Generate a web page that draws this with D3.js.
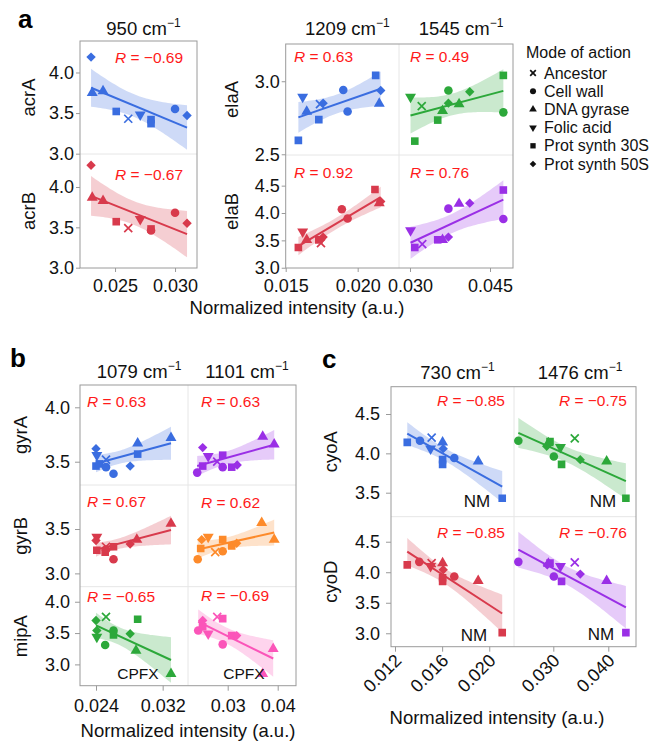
<!DOCTYPE html>
<html>
<head>
<meta charset="utf-8">
<script src="https://cdn.jsdelivr.net/npm/d3@7"></script>
<style>
  body { margin: 0; background: #fff; }
  text { font-family: "Liberation Sans", Arial, Helvetica, sans-serif; }
</style>
</head>
<body>
<svg id="fig" width="651" height="743"></svg>
<script>
// mode of action codes: X ancestor, C cell wall, T DNA gyrase, F folic acid, S prot synth 30S, D prot synth 50S
const modes = [["X", "Ancestor"], ["C", "Cell wall"], ["T", "DNA gyrase"], ["F", "Folic acid"], ["S", "Prot synth 30S"], ["D", "Prot synth 50S"]];

// points: [mode, normalized intensity, expression]
const acrA_950 = [["D",0.0230,4.19],["T",0.0231,3.75],["T",0.0240,3.77],["S",0.0251,3.52],["X",0.0261,3.43],["F",0.0271,3.48],["S",0.0280,3.42],["S",0.0280,3.37],["C",0.0300,3.55],["D",0.0310,3.47]];
const acrB_950 = [["D",0.0230,4.27],["T",0.0231,3.87],["T",0.0240,3.83],["S",0.0251,3.57],["X",0.0261,3.49],["F",0.0271,3.60],["S",0.0280,3.48],["C",0.0280,3.46],["C",0.0300,3.68],["D",0.0310,3.55]];
const elaA_1209 = [["S",0.01588,2.595],["F",0.01618,2.892],["T",0.01646,2.793],["X",0.01738,2.843],["D",0.0176,2.85],["S",0.0173,2.737],["C",0.0190,2.94],["C",0.0193,2.793],["S",0.02125,3.04],["D",0.0216,2.937],["T",0.0215,2.847]];
const elaB_1209 = [["S",0.01588,3.37],["F",0.01618,3.66],["T",0.01646,3.51],["X",0.01745,3.45],["D",0.0176,3.56],["S",0.0173,3.51],["C",0.0189,4.07],["C",0.0193,3.90],["S",0.0212,4.43],["D",0.0216,4.21],["T",0.0215,4.18]];
const elaA_1545 = [["F",0.0301,2.892],["S",0.0309,2.59],["X",0.0322,2.83],["S",0.0352,2.734],["T",0.0361,2.797],["C",0.0372,2.937],["D",0.0372,2.85],["T",0.0392,2.843],["D",0.0412,2.928],["S",0.0475,3.04],["C",0.0475,2.787]];
const elaB_1545 = [["F",0.0301,3.68],["S",0.0309,3.37],["X",0.0323,3.43],["S",0.0352,3.51],["T",0.0361,3.51],["D",0.0372,3.56],["C",0.0372,4.08],["T",0.0392,4.17],["D",0.0412,4.18],["S",0.0475,4.42],["C",0.0475,3.89]];

const gyrA_1079 = [["D",0.0240,3.62],["F",0.0241,3.56],["S",0.0240,3.46],["S",0.0244,3.48],["X",0.0252,3.52],["C",0.0252,3.45],["C",0.0261,3.39],["D",0.0281,3.46],["S",0.0290,3.57],["T",0.0290,3.67],["T",0.0330,3.72]];
const gyrB_1079 = [["F",0.0241,3.41],["D",0.0240,3.37],["S",0.0241,3.26],["S",0.0251,3.24],["X",0.0252,3.30],["C",0.0252,3.27],["S",0.0261,3.30],["C",0.0261,3.16],["D",0.0281,3.33],["T",0.0289,3.38],["T",0.0330,3.56]];
const mipA_1079 = [["D",0.0240,3.70],["D",0.0241,3.54],["F",0.0241,3.44],["C",0.0251,3.31],["X",0.0252,3.76],["C",0.0261,3.54],["S",0.0261,3.47],["D",0.0281,3.49],["S",0.0290,3.72],["T",0.0288,3.22],["T",0.0330,2.85]];
const gyrA_1101 = [["C",0.0239,3.40],["S",0.0250,3.46],["D",0.0250,3.63],["F",0.0261,3.55],["X",0.0279,3.50],["S",0.0290,3.56],["C",0.0290,3.45],["S",0.0308,3.45],["D",0.0319,3.47],["T",0.0370,3.73],["T",0.0393,3.66]];
const gyrB_1101 = [["C",0.0240,3.16],["S",0.0246,3.28],["D",0.0248,3.38],["F",0.0261,3.41],["X",0.0275,3.24],["S",0.0290,3.38],["C",0.0290,3.25],["S",0.0308,3.31],["D",0.0318,3.34],["T",0.0368,3.57],["T",0.0393,3.38]];
const mipA_1101 = [["C",0.0241,3.54],["D",0.0250,3.70],["S",0.0250,3.60],["F",0.0261,3.49],["X",0.0279,3.76],["S",0.0290,3.73],["C",0.0290,3.32],["S",0.0308,3.46],["D",0.0318,3.46],["T",0.0391,3.25],["T",0.0370,2.85]];

const cyoA_730 = [["S",0.01304,4.14],["C",0.01412,4.16],["X",0.01511,4.20],["F",0.01502,4.06],["T",0.01604,4.14],["D",0.01609,4.06],["S",0.01604,3.92],["S",0.01604,3.86],["C",0.01703,3.94],["T",0.01906,3.90],["S",0.0211,3.43]];
const cyoA_1476 = [["C",0.02364,4.16],["D",0.0288,4.09],["T",0.0291,4.13],["S",0.0294,4.15],["C",0.0301,3.96],["F",0.0313,4.08],["S",0.0315,3.86],["X",0.0339,4.19],["D",0.0349,3.92],["T",0.0397,3.90],["S",0.0432,3.43]];
const cyoD_730 = [["S",0.01304,4.12],["C",0.01406,4.17],["X",0.01511,4.15],["F",0.01502,4.10],["T",0.01604,4.15],["D",0.01609,4.04],["S",0.01604,3.91],["S",0.01604,3.85],["C",0.01703,3.93],["T",0.01906,3.86],["S",0.0211,3.01]];
const cyoD_1476 = [["C",0.02364,4.17],["D",0.0289,4.12],["T",0.0291,4.14],["S",0.0294,4.15],["F",0.0313,4.10],["X",0.0339,4.16],["C",0.0301,3.93],["S",0.0315,3.85],["D",0.0349,3.97],["T",0.0397,3.86],["S",0.0432,3.01]];

// correlation labels as printed
const rLabels = {acrA_950:"−0.69", acrB_950:"−0.67", elaA_1209:"0.63", elaB_1209:"0.92", elaA_1545:"0.49", elaB_1545:"0.76",
  gyrA_1079:"0.63", gyrB_1079:"0.67", mipA_1079:"−0.65", gyrA_1101:"0.63", gyrB_1101:"0.62", mipA_1101:"−0.69",
  cyoA_730:"−0.85", cyoA_1476:"−0.75", cyoD_730:"−0.85", cyoD_1476:"−0.76"};

const BLUE = "#3a6de0", RED = "#d83a4c", GREEN = "#2ca83a", PURPLE = "#9a2fe6", ORANGE = "#fd8a2a", PINK = "#fb55b9";
const FRAME = "#9a9a9a", DIV = "#e6e6e6", RTXT = "#ff1a1a";

// t quantiles (0.975) by degrees of freedom
const TQ = {6:2.447, 7:2.365, 8:2.306, 9:2.262, 10:2.228, 11:2.201, 12:2.179, 13:2.160};

const svg = d3.select("#fig");

function lm(pts) {
  const n = pts.length;
  const mx = d3.mean(pts, p => p[1]), my = d3.mean(pts, p => p[2]);
  let sxx = 0, sxy = 0;
  pts.forEach(p => { sxx += (p[1] - mx) ** 2; sxy += (p[1] - mx) * (p[2] - my); });
  const b = sxy / sxx, a = my - b * mx;
  let sse = 0;
  pts.forEach(p => { sse += (p[2] - a - b * p[1]) ** 2; });
  const s = Math.sqrt(sse / (n - 2)), t = TQ[n - 2] || 2.2;
  const ext = d3.extent(pts, p => p[1]);
  return {a, b, ext, half: x => t * s * Math.sqrt(1 / n + (x - mx) ** 2 / sxx)};
}

const SYM = {
  C: {d: d3.symbol(d3.symbolCircle, 58)(), rot: 0},
  S: {d: d3.symbol(d3.symbolSquare, 58)(), rot: 0},
  T: {d: d3.symbol(d3.symbolTriangle, 52)(), rot: 0},
  F: {d: d3.symbol(d3.symbolTriangle, 52)(), rot: 180},
  D: {d: d3.symbol(d3.symbolSquare, 44)(), rot: 45},
  X: {d: "M-4,-4L4,4M-4,4L4,-4", rot: 0, stroke: true}
};

function drawSym(g, code, x, y, color, k) {
  const s = SYM[code];
  const p = g.append("path").attr("d", s.d)
    .attr("transform", `translate(${x},${y}) rotate(${s.rot}) scale(${k})`);
  if (s.stroke) p.attr("fill", "none").attr("stroke", color).attr("stroke-width", 1.7 / k);
  else p.attr("fill", color);
}

let clipId = 0;

function drawGroup(G) {
  const g = svg.append("g");
  const colX = G.cols.map(c => d3.scaleLinear().domain(c.domain).range([c.x0, c.x1]));
  const rowY = G.rows.map(r => d3.scaleLinear().domain(r.domain).range([r.y1, r.y0]));
  const left = G.cols[0].x0, right = G.cols[G.cols.length - 1].x1;
  const top = G.rows[0].y0, bottom = G.rows[G.rows.length - 1].y1;

  // facet dividers
  G.cols.slice(1).forEach(c => g.append("line").attr("x1", c.x0).attr("x2", c.x0).attr("y1", top).attr("y2", bottom).attr("stroke", DIV));
  G.rows.slice(1).forEach(r => g.append("line").attr("x1", left).attr("x2", right).attr("y1", r.y0).attr("y2", r.y0).attr("stroke", DIV));

  // facets
  G.facets.forEach(f => {
    const c = G.cols[f.col], r = G.rows[f.row];
    const xs = colX[f.col], ys = rowY[f.row];
    const id = "clip" + (clipId++);
    g.append("clipPath").attr("id", id).append("rect")
      .attr("x", c.x0).attr("y", r.y0).attr("width", c.x1 - c.x0).attr("height", r.y1 - r.y0);
    const fg = g.append("g").attr("clip-path", `url(#${id})`);
    const m = lm(f.data);
    const grid = d3.range(41).map(i => m.ext[0] + (m.ext[1] - m.ext[0]) * i / 40);
    fg.append("path").datum(grid)
      .attr("d", d3.area().x(d => xs(d)).y0(d => ys(m.a + m.b * d - m.half(d))).y1(d => ys(m.a + m.b * d + m.half(d))))
      .attr("fill", f.color).attr("fill-opacity", 0.25);
    fg.append("line")
      .attr("x1", xs(m.ext[0])).attr("y1", ys(m.a + m.b * m.ext[0]))
      .attr("x2", xs(m.ext[1])).attr("y2", ys(m.a + m.b * m.ext[1]))
      .attr("stroke", f.color).attr("stroke-width", 2);
    f.data.forEach(p => drawSym(fg, p[0], xs(p[1]), ys(p[2]), f.color, 1));

    const rt = g.append("text").attr("x", f.rx).attr("y", f.ry).attr("text-anchor", f.anchor || "start")
      .attr("font-size", 15.5).attr("fill", RTXT);
    rt.append("tspan").attr("font-style", "italic").text("R");
    rt.append("tspan").text(" = " + f.r);
    if (f.note) {
      g.append("text").attr("x", f.note.x).attr("y", f.note.y).attr("text-anchor", "middle")
        .attr("font-size", f.note.size).attr("fill", "#111").text(f.note.text);
    }
  });

  // border
  g.append("rect").attr("x", left).attr("y", top).attr("width", right - left).attr("height", bottom - top)
    .attr("fill", "none").attr("stroke", FRAME);

  // y axes
  G.rows.forEach((r, i) => {
    const ax = g.append("g").attr("transform", `translate(${left},0)`)
      .call(d3.axisLeft(rowY[i]).tickValues(r.ticks).tickFormat(d3.format(".1f")).tickSize(G.yTick.size).tickPadding(G.yTick.pad));
    ax.select(".domain").remove();
    ax.selectAll("line").attr("stroke", FRAME);
    ax.selectAll("text").attr("font-size", 18).attr("fill", "#111").attr("font-family", null);
    g.append("text").attr("transform", `translate(${G.ylabX},${(r.y0 + r.y1) / 2}) rotate(-90)`)
      .attr("text-anchor", "middle").attr("font-size", 18.5).attr("fill", "#111").text(r.label);
  });

  // x axes and column titles
  G.cols.forEach((c, i) => {
    const ax = g.append("g").attr("transform", `translate(0,${bottom})`)
      .call(d3.axisBottom(colX[i]).tickValues(c.ticks).tickFormat(d3.format(c.fmt)).tickSize(G.xTick.size).tickPadding(G.xTick.pad));
    ax.select(".domain").remove();
    ax.selectAll("line").attr("stroke", FRAME);
    const tx = ax.selectAll("text").attr("font-size", 18).attr("fill", "#111").attr("font-family", null);
    if (G.xTick.rot) {
      tx.attr("y", null).attr("dy", null).attr("text-anchor", "end")
        .attr("transform", `translate(${G.xTick.rx},${G.xTick.ry}) rotate(-45)`);
    }
    const t = g.append("text").attr("x", (c.x0 + c.x1) / 2 + 5).attr("y", G.titleY)
      .attr("text-anchor", "middle").attr("font-size", 18.5).attr("fill", "#111");
    t.append("tspan").text(c.title + " cm");
    t.append("tspan").attr("font-size", 12).attr("dy", -8).text("−1");
  });

  if (G.xTitle) {
    g.append("text").attr("x", G.xTitle[0]).attr("y", G.xTitle[1]).attr("text-anchor", "middle")
      .attr("font-size", 18.5).attr("fill", "#111").text("Normalized intensity (a.u.)");
  }
}

// ---- panel a ----
drawGroup({
  cols: [{x0: 80, x1: 197, domain: [0.02208, 0.03183], ticks: [0.025, 0.030], fmt: ".3f", title: "950"}],
  rows: [{y0: 41, y1: 154, domain: [2.996, 4.388], ticks: [3.0, 3.5, 4.0], label: "acrA"},
         {y0: 154, y1: 268, domain: [2.996, 4.409], ticks: [3.0, 3.5, 4.0], label: "acrB"}],
  yTick: {size: 4, pad: 2}, xTick: {size: 4, pad: 7}, ylabX: 35, titleY: 35, xTitle: [297, 314],
  facets: [
    {row: 0, col: 0, data: acrA_950, color: BLUE, r: rLabels.acrA_950, rx: 115, ry: 63},
    {row: 1, col: 0, data: acrB_950, color: RED, r: rLabels.acrB_950, rx: 115, ry: 180}
  ]
});
drawGroup({
  cols: [{x0: 285.7, x1: 399, domain: [0.015, 0.02287], ticks: [0.015, 0.020], fmt: ".3f", title: "1209"},
         {x0: 399, x1: 513, domain: [0.02794, 0.04931], ticks: [0.030, 0.045], fmt: ".3f", title: "1545"}],
  rows: [{y0: 44, y1: 155, domain: [2.495, 3.255], ticks: [2.5, 3.0], label: "elaA"},
         {y0: 155, y1: 268, domain: [2.995, 5.06], ticks: [3.0, 3.5, 4.0, 4.5], label: "elaB"}],
  yTick: {size: 4, pad: 2}, xTick: {size: 4, pad: 7}, ylabX: 238, titleY: 35,
  facets: [
    {row: 0, col: 0, data: elaA_1209, color: BLUE, r: rLabels.elaA_1209, rx: 294, ry: 62},
    {row: 1, col: 0, data: elaB_1209, color: RED, r: rLabels.elaB_1209, rx: 294, ry: 178},
    {row: 0, col: 1, data: elaA_1545, color: GREEN, r: rLabels.elaA_1545, rx: 410, ry: 62},
    {row: 1, col: 1, data: elaB_1545, color: PURPLE, r: rLabels.elaB_1545, rx: 410, ry: 178}
  ]
});

// ---- panel b ----
drawGroup({
  cols: [{x0: 80, x1: 188, domain: [0.02208, 0.03504], ticks: [0.024, 0.032], fmt: ".3f", title: "1079"},
         {x0: 188, x1: 296, domain: [0.02206, 0.04366], ticks: [0.03, 0.04], fmt: ".2f", title: "1101"}],
  rows: [{y0: 385, y1: 485, domain: [3.286, 4.205], ticks: [3.5, 4.0], label: "gyrA"},
         {y0: 485, y1: 586.7, domain: [2.85, 3.996], ticks: [3.0, 3.5], label: "gyrB"},
         {y0: 586.7, y1: 685.7, domain: [2.66, 4.24], ticks: [3.0, 3.5, 4.0], label: "mipA"}],
  yTick: {size: 5, pad: 5}, xTick: {size: 5, pad: 9}, ylabX: 27, titleY: 378, xTitle: [188, 737],
  facets: [
    {row: 0, col: 0, data: gyrA_1079, color: BLUE, r: rLabels.gyrA_1079, rx: 87, ry: 407},
    {row: 1, col: 0, data: gyrB_1079, color: RED, r: rLabels.gyrB_1079, rx: 87, ry: 507},
    {row: 2, col: 0, data: mipA_1079, color: GREEN, r: rLabels.mipA_1079, rx: 87, ry: 602,
      note: {text: "CPFX", x: 138, y: 679, size: 15.5}},
    {row: 0, col: 1, data: gyrA_1101, color: PURPLE, r: rLabels.gyrA_1101, rx: 201, ry: 407},
    {row: 1, col: 1, data: gyrB_1101, color: ORANGE, r: rLabels.gyrB_1101, rx: 201, ry: 508},
    {row: 2, col: 1, data: mipA_1101, color: PINK, r: rLabels.mipA_1101, rx: 201, ry: 601,
      note: {text: "CPFX", x: 244, y: 679, size: 15.5}}
  ]
});

// ---- panel c ----
drawGroup({
  cols: [{x0: 391, x1: 514, domain: [0.01166, 0.0221], ticks: [0.012, 0.016, 0.020], fmt: ".3f", title: "730"},
         {x0: 514, x1: 636, domain: [0.02285, 0.04504], ticks: [0.030, 0.040], fmt: ".3f", title: "1476"}],
  rows: [{y0: 386.7, y1: 516.7, domain: [3.195, 4.847], ticks: [3.5, 4.0, 4.5], label: "cyoA"},
         {y0: 516.7, y1: 646.7, domain: [2.78, 4.91], ticks: [3.0, 3.5, 4.0, 4.5], label: "cyoD"}],
  yTick: {size: 5, pad: 6}, xTick: {size: 5, pad: 0, rot: true, rx: 7, ry: 15}, ylabX: 337, titleY: 379, xTitle: [497, 724],
  facets: [
    {row: 0, col: 0, data: cyoA_730, color: BLUE, r: rLabels.cyoA_730, rx: 505, ry: 406, anchor: "end",
      note: {text: "NM", x: 477, y: 507, size: 17}},
    {row: 0, col: 1, data: cyoA_1476, color: GREEN, r: rLabels.cyoA_1476, rx: 627, ry: 406, anchor: "end",
      note: {text: "NM", x: 603, y: 507, size: 17}},
    {row: 1, col: 0, data: cyoD_730, color: RED, r: rLabels.cyoD_730, rx: 505, ry: 538, anchor: "end",
      note: {text: "NM", x: 474, y: 641, size: 17}},
    {row: 1, col: 1, data: cyoD_1476, color: PURPLE, r: rLabels.cyoD_1476, rx: 627, ry: 538, anchor: "end",
      note: {text: "NM", x: 601, y: 640, size: 17}}
  ]
});

// ---- legend ----
const lg = svg.append("g");
lg.append("text").attr("x", 526).attr("y", 58).attr("font-size", 16).attr("fill", "#111").text("Mode of action");
modes.forEach((m, i) => {
  const cy = 73 + i * 18.2;
  drawSym(lg, m[0], 533, cy, "#111", 0.7);
  lg.append("text").attr("x", 544).attr("y", cy + 5.5).attr("font-size", 16).attr("fill", "#111").text(m[1]);
});

// ---- panel letters ----
[["a", 18, 28], ["b", 10, 367], ["c", 322, 368]].forEach(l =>
  svg.append("text").attr("x", l[1]).attr("y", l[2]).attr("font-size", 26).attr("font-weight", "bold").attr("fill", "#000").text(l[0]));
</script>
</body>
</html>
